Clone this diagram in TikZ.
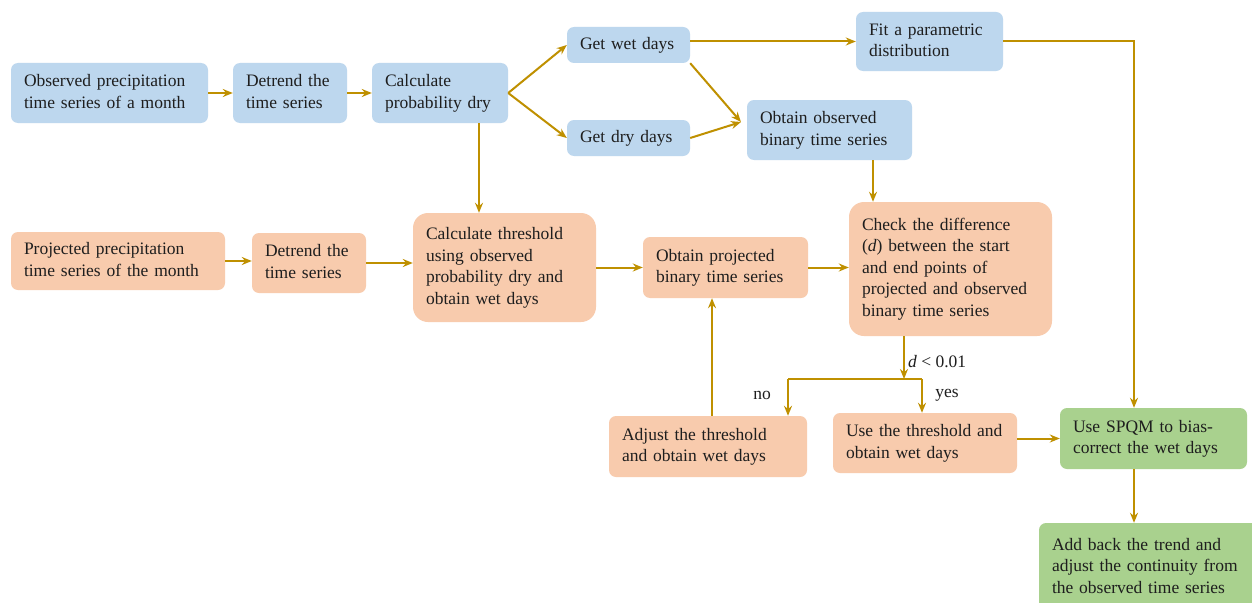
\documentclass[tikz,border=0pt]{standalone}
\usepackage{fontspec}
\setmainfont{Liberation Serif}
\usetikzlibrary{arrows.meta,calc}
\definecolor{bluef}{RGB}{189,215,238}
\definecolor{orangef}{RGB}{248,203,173}
\definecolor{greenf}{RGB}{169,209,142}
\definecolor{arrc}{RGB}{191,144,0}
\definecolor{txt}{RGB}{30,30,30}
\newcommand{\tl}[1]{\begin{tabular}{@{}l@{}}#1\end{tabular}}
\tikzset{
  box/.style={rounded corners=7pt, align=left, inner ysep=0pt, inner xsep=13pt, text=txt,
    font=\fontsize{17.5}{21.5}\selectfont},
  bw/.style={minimum width=#1, text width=#1-26pt},
  bluebox/.style={box, fill=bluef},
  orangebox/.style={box, fill=orangef},
  greenbox/.style={box, fill=greenf},
  link/.style={draw=arrc, line width=2pt},
  arr/.style={link, -{Stealth[length=10pt,width=8pt]}},
  lbl/.style={text=txt, font=\fontsize{17.5}{21.5}\selectfont, inner sep=0pt}
}
\begin{document}
\begin{tikzpicture}[x=1pt,y=-1pt]
\clip (0,0) rectangle (1252,602);
\fill[white] (0,0) rectangle (1252,602);
\renewcommand{\arraystretch}{1.0}
% row 1
\node[bluebox, bw=197pt, minimum height=60pt] (obs) at (109.5,93) {\tl{Observed precipitation\\time series of a month}};
\node[bluebox, bw=114pt, minimum height=60pt] (det1) at (290,93) {\tl{Detrend the\\time series}};
\node[bluebox, bw=136pt, minimum height=60pt] (prob) at (440,93) {\tl{Calculate\\probability dry}};
\node[bluebox, bw=123pt, minimum height=36pt] (wet) at (628.5,45) {\tl{Get wet days}};
\node[bluebox, bw=123pt, minimum height=36pt] (dry) at (628.5,138) {\tl{Get dry days}};
\node[bluebox, bw=165pt, minimum height=60pt] (obsbin) at (829.5,130) {\tl{Obtain observed\\binary time series}};
\node[bluebox, bw=147pt, minimum height=59pt] (fit) at (929.5,41.5) {\tl{Fit a parametric\\distribution}};
% row 2
\node[orangebox, bw=214pt, minimum height=58pt] (proj) at (118,261) {\tl{Projected precipitation\\time series of the month}};
\node[orangebox, bw=114pt, minimum height=60pt] (det2) at (309,263) {\tl{Detrend the\\time series}};
\node[orangebox, rounded corners=15pt, bw=183pt, minimum height=109pt] (thr) at (504.5,267.5) {\tl{Calculate threshold\\using observed\\probability dry and\\obtain wet days}};
\node[orangebox, bw=165pt, minimum height=61pt] (projbin) at (725.5,267.5) {\tl{Obtain projected\\binary time series}};
\node[orangebox, rounded corners=15pt, bw=203pt, minimum height=134pt] (check) at (950.5,269) {\tl{Check the difference\\(\textit{d}) between the start\\and end points of\\projected and observed\\binary time series}};
% row 3
\node[orangebox, bw=198pt, minimum height=61pt] (adjust) at (708,446.5) {\tl{Adjust the threshold\\and obtain wet days}};
\node[orangebox, bw=184pt, minimum height=60pt] (use) at (925,443) {\tl{Use the threshold and\\obtain wet days}};
\node[greenbox, bw=187pt, minimum height=61pt] (spqm) at (1153.5,438.5) {\tl{Use SPQM to bias-\\correct the wet days}};
\node[greenbox, bw=223pt, minimum height=89pt] (add) at (1150.5,567.5) {\tl{Add back the trend and\\adjust the continuity from\\the observed time series}};
% helper coordinates
\coordinate (obsin) at (741,122);
\coordinate (p1) at (479,0);
\coordinate (p2) at (873,0);
\coordinate (p3) at (712,0);
\coordinate (p4) at (1134,0);
\coordinate (j) at (904,379);
\coordinate (jl) at (788,379);
\coordinate (jr) at (922,379);
% connectors
\draw[arr] (obs) -- (det1);
\draw[arr] (det1) -- (prob);
\draw[arr] (prob.east) -- (wet.west);
\draw[arr] (prob.east) -- (dry.west);
\draw[arr] (fit.west -| wet.east) -- (fit.west);
\draw[arr] (wet.south east) -- (obsin);
\draw[arr] (dry.east) -- (obsin);
\draw[arr] (p1 |- prob.south) -- (p1 |- thr.north);
\draw[arr] (proj.east) -- (proj.east -| det2.west);
\draw[arr] (det2.east) -- (det2.east -| thr.west);
\draw[arr] (thr.east) -- (projbin.west);
\draw[arr] (projbin.east) -- (projbin.east -| check.west);
\draw[arr] (p2 |- obsbin.south) -- (p2 |- check.north);
\draw[arr] (j |- check.south) -- (j);
\draw[link] (jl) -- (jr);
\draw[arr] (jl) -- (jl |- adjust.north);
\draw[arr] (jr) -- (jr |- use.north);
\draw[arr] (p3 |- adjust.north) -- (p3 |- projbin.south);
\draw[arr] (spqm.west -| use.east) -- (spqm.west);
\draw[arr] (fit.east) -- (fit.east -| p4) -- (p4 |- spqm.north);
\draw[arr] (p4 |- spqm.south) -- (p4 |- add.north);
% labels
\node[lbl, anchor=west] (dlbl) at (908,362) {\textit{d} < 0.01};
\node[lbl] (nolbl) at (762,395) {no};
\node[lbl] (yeslbl) at (947,395) {yes};
\end{tikzpicture}
\end{document}
